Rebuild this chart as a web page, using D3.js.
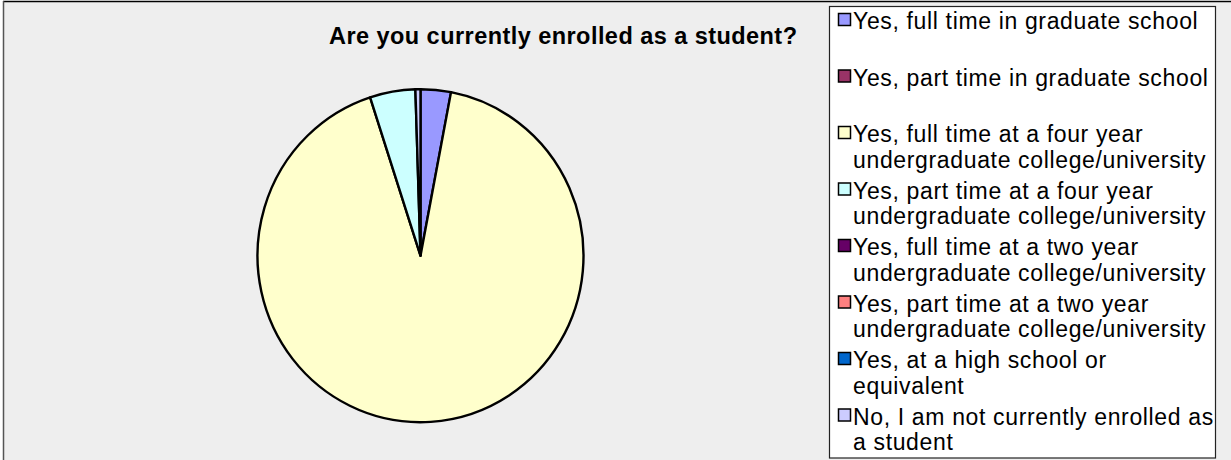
<!DOCTYPE html>
<html>
<head>
<meta charset="utf-8">
<script src="https://cdn.jsdelivr.net/npm/d3@7"></script>
<style>
  html, body { margin: 0; padding: 0; background: #ffffff; }
  svg { display: block; }
</style>
</head>
<body>
<svg id="chart" width="1231" height="460"></svg>
<script>
// Survey responses: "Are you currently enrolled as a student?"
const categories = [
  ["Yes, full time in graduate school"],
  ["Yes, part time in graduate school"],
  ["Yes, full time at a four year", "undergraduate college/university"],
  ["Yes, part time at a four year", "undergraduate college/university"],
  ["Yes, full time at a two year", "undergraduate college/university"],
  ["Yes, part time at a two year", "undergraduate college/university"],
  ["Yes, at a high school or", "equivalent"],
  ["No, I am not currently enrolled as", "a student"]
];
const shares = [3.0, 0, 92.0, 4.5, 0, 0, 0, 0.5];
const colors = ["#9999ff", "#993366", "#ffffcc", "#ccffff", "#660066", "#ff8080", "#0066cc", "#ccccff"];
const titleText = "Are you currently enrolled as a student?";

const W = 1231, H = 460;
const svg = d3.select("#chart");

// chart area frame
svg.append("rect").attr("x", 4).attr("y", 2).attr("width", W - 4).attr("height", H - 2)
  .attr("fill", "#eeeeee");
svg.append("line").attr("x1", 3).attr("x2", W).attr("y1", 1.5).attr("y2", 1.5)
  .attr("stroke", "#000").attr("stroke-width", 1.5);
svg.append("line").attr("x1", 3.5).attr("x2", 3.5).attr("y1", 1).attr("y2", H)
  .attr("stroke", "#555").attr("stroke-width", 1.5);

// title
svg.append("text")
  .attr("x", 329).attr("y", 44)
  .attr("font-family", "'Liberation Sans', Arial, sans-serif")
  .attr("font-weight", "bold").attr("font-size", 23.5)
  .attr("textLength", 468).attr("lengthAdjust", "spacing")
  .attr("fill", "#000")
  .text(titleText);

// pie
const rx = 163, ry = 166.5;
const data = categories.map((c, i) => ({ label: c.join(" "), value: shares[i], color: colors[i] }));
const pie = d3.pie().sort(null).value(d => d.value);
const arc = d3.arc().innerRadius(0).outerRadius(rx);
const pieG = svg.append("g")
  .attr("transform", `translate(420.5,255.7) scale(1,${ry / rx})`);
pieG.selectAll("path")
  .data(pie(data).filter(d => d.data.value > 0))
  .join("path")
  .attr("d", arc)
  .attr("fill", d => d.data.color)
  .attr("stroke", "#000")
  .attr("stroke-width", 2.4)
  .attr("stroke-linejoin", "round")
  .attr("vector-effect", "non-scaling-stroke");

// legend
const lg = svg.append("g");
lg.append("rect")
  .attr("x", 829.5).attr("y", 6.5).attr("width", 386).attr("height", 451.5)
  .attr("fill", "#fff").attr("stroke", "#222").attr("stroke-width", 1.2);

const rowStep = 56.5, firstMid = 21, lineGap = 25.5;
const items = lg.selectAll("g.item").data(data).join("g").attr("class", "item")
  .attr("transform", (d, i) => `translate(0,${firstMid + i * rowStep})`);
items.append("rect")
  .attr("x", 838.5).attr("y", -7.5).attr("width", 12).attr("height", 12)
  .attr("fill", d => d.color).attr("stroke", "#000").attr("stroke-width", 1.5);
items.each(function (d, i) {
  const t = d3.select(this).append("text")
    .attr("font-family", "'Liberation Sans', Arial, sans-serif")
    .attr("font-size", 23).attr("letter-spacing", 0.65)
    .attr("fill", "#000");
  categories[i].forEach((line, k) => {
    t.append("tspan").attr("x", 853).attr("y", 8 + k * lineGap).text(line);
  });
});
</script>
</body>
</html>
